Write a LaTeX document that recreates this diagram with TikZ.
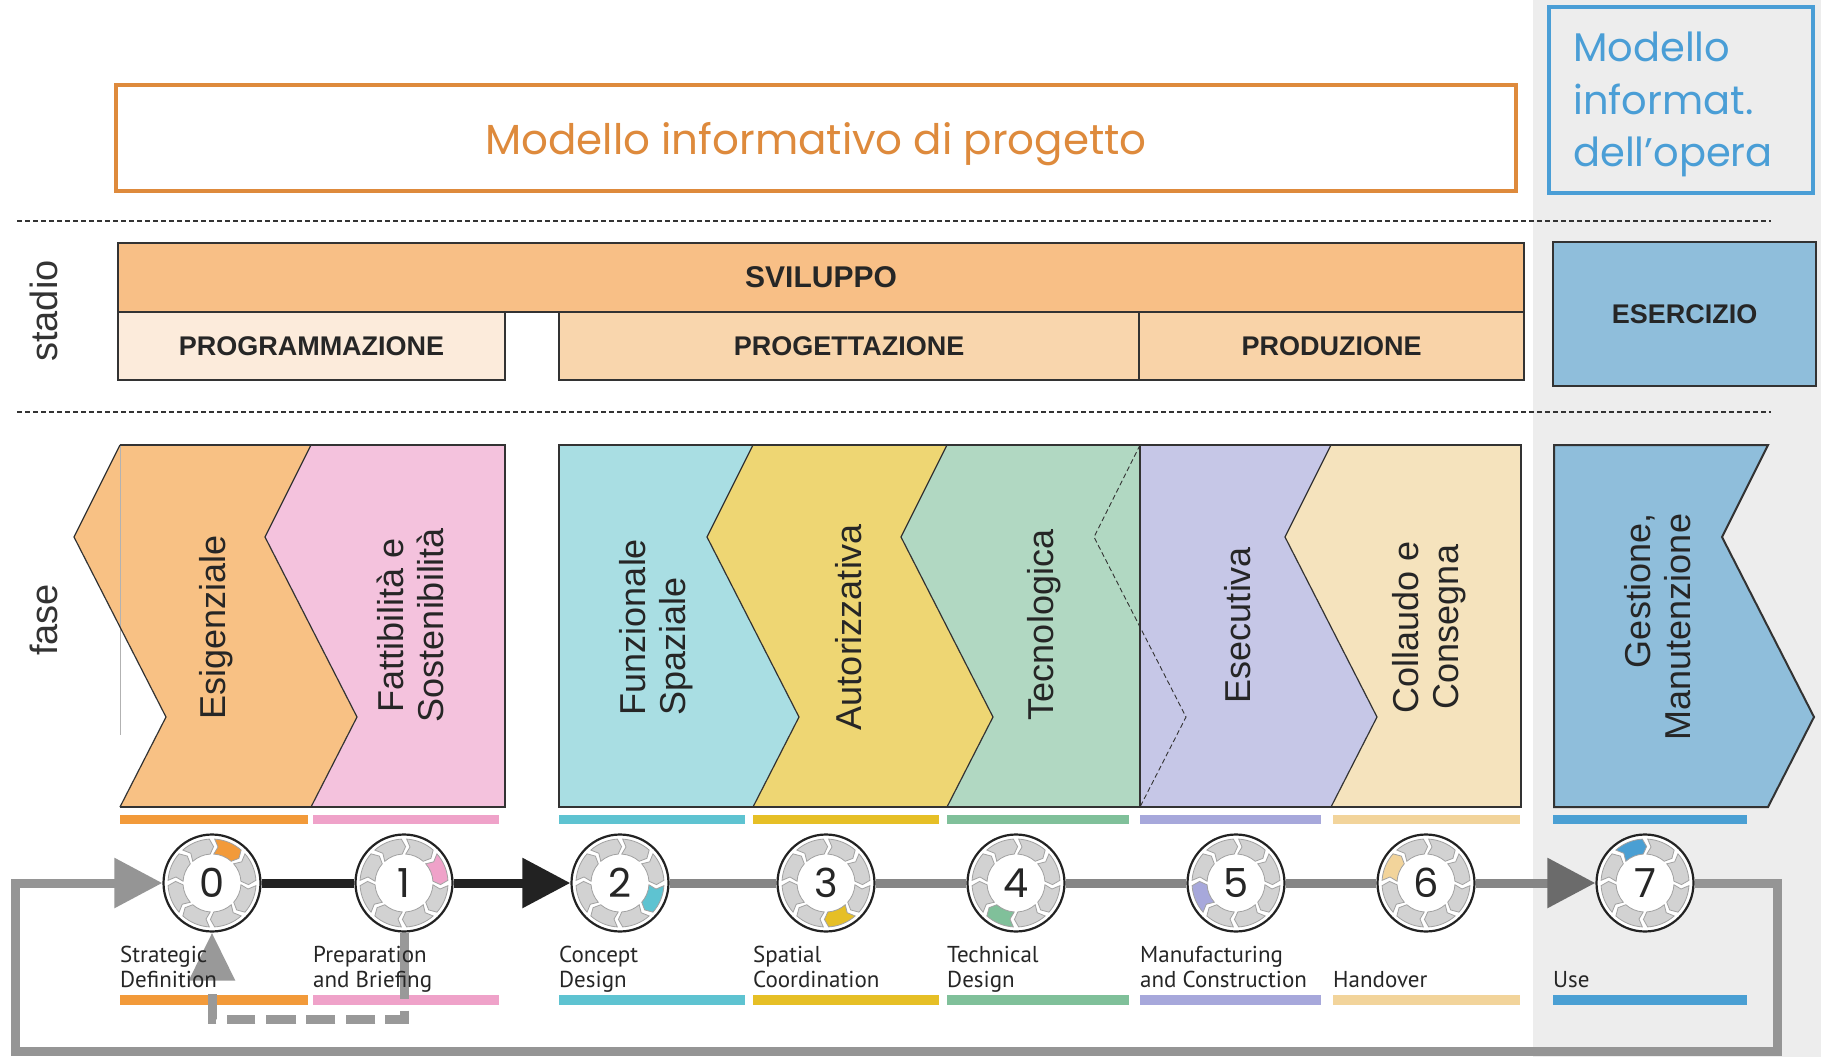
\documentclass[tikz,border=0pt]{standalone}
\usepackage{fontspec}
\setmainfont{Liberation Sans}
\newfontfamily\geofont{Poppins}
\newfontfamily\capfont{PT Sans}
\usetikzlibrary{arrows.meta}
\pgfdeclarelayer{back}
\pgfdeclarelayer{lines}
\pgfsetlayers{back,lines,main}

\definecolor{bgright}{HTML}{EDEDED}
\definecolor{textdark}{HTML}{262626}
\definecolor{boxline}{HTML}{333333}
\definecolor{titleor}{HTML}{DE8A3C}
\definecolor{titleblue}{HTML}{4A9ED6}
\definecolor{svil}{HTML}{F8BF86}
\definecolor{progr}{HTML}{FCEBDB}
\definecolor{proge}{HTML}{F9D6AD}
\definecolor{produ}{HTML}{F9D3A8}
\definecolor{eserc}{HTML}{8FBEDB}
\definecolor{oF}{HTML}{F8C184}\definecolor{oB}{HTML}{F29A3A}
\definecolor{pF}{HTML}{F4C2DD}\definecolor{pB}{HTML}{EFA2C9}
\definecolor{cF}{HTML}{A9DEE3}\definecolor{cB}{HTML}{5EC3D1}
\definecolor{yF}{HTML}{EED673}\definecolor{yB}{HTML}{E6BF26}
\definecolor{gF}{HTML}{B1D8C2}\definecolor{gB}{HTML}{80C09A}
\definecolor{lF}{HTML}{C6C7E7}\definecolor{lB}{HTML}{A7A8DB}
\definecolor{bF}{HTML}{F5E3BD}\definecolor{bB}{HTML}{F2D49B}
\definecolor{blF}{HTML}{8FBEDB}\definecolor{blB}{HTML}{4A9FD3}
\definecolor{seggray}{HTML}{D2D2D2}
\definecolor{segedge}{HTML}{A2A2A2}
\definecolor{lineblack}{HTML}{222222}
\definecolor{linegray}{HTML}{868686}
\definecolor{loopgray}{HTML}{959595}
\definecolor{fbgray}{HTML}{999999}

\newcommand\zig[1]{(#1,445) -- ({#1-46},537) -- ({#1+46},717) -- (#1,807)}
\newcommand\zigr[1]{(#1,807) -- ({#1+46},717) -- ({#1-46},537) -- (#1,445)}

\newcommand\phasering[4]{%
 \begin{scope}[shift={(#1,#2)},yscale=-1]
 \foreach \k in {0,...,7}{%
   \pgfmathsetmacro\segc{67.5-45*\k}%
   \ifnum\k=#4\relax \colorlet{segfill}{#3}\else\colorlet{segfill}{seggray}\fi
   \filldraw[fill=segfill,draw=segedge,line width=0.8pt]
     ({\segc+19}:44) arc[start angle={\segc+19},end angle={\segc-19},radius=44]
     -- ({\segc-25}:36.5) -- ({\segc-19}:29)
     arc[start angle={\segc-19},end angle={\segc+19},radius=29]
     -- ({\segc+13}:36.5) -- cycle;
 }%
 \end{scope}}

\tikzset{
  sepline/.style={draw=boxline,line width=2.5pt,dash pattern=on 5pt off 3pt},
  stbox/.style={draw=boxline,line width=2pt,inner sep=0pt,
     font=\fontsize{27}{30}\selectfont\bfseries,text=textdark},
  phasetext/.style={rotate=90,font=\fontsize{36}{40}\selectfont,text=textdark,inner sep=0pt},
  sidelabel/.style={rotate=90,font=\fontsize{38}{40}\selectfont,text=boxline,inner sep=0pt},
  boundary/.style={draw=boxline,line width=1.2pt},
  frame/.style={draw=boxline,line width=2pt},
  phasecircle/.style={circle,minimum size=97pt,inner sep=0pt,fill=white,draw=lineblack,line width=2.2pt},
  numtext/.style={font=\geofont\fontsize{40}{42}\selectfont,text=textdark,inner sep=0pt},
  captext/.style={anchor=base west,font=\capfont\fontsize{23}{25}\selectfont,text=textdark,inner sep=0pt},
  blackline/.style={draw=lineblack,line width=9pt},
  grayline/.style={draw=linegray,line width=9pt},
  loopline/.style={draw=loopgray,line width=9pt,line join=miter},
  bigtip/.style={-{Triangle[length=48pt,width=48pt]}},
  fbline/.style={draw=fbgray,line width=9pt,line join=miter},
  bluetext/.style={anchor=base west,inner sep=0pt,font=\geofont\fontsize{40}{44}\selectfont,text=titleblue},
}

\begin{document}
\begin{tikzpicture}[x=1pt,y=-1pt]
\useasboundingbox (0,0) rectangle (1821,1057);
\begin{pgfonlayer}{back}
\fill[white] (0,0) rectangle (1821,1057);
\fill[bgright] (1533,0) rectangle (1821,1057);
\end{pgfonlayer}

% separators
\draw[sepline] (17,221) -- (1771,221);
\draw[sepline] (17,412) -- (1771,412);

% model boxes
\node[draw=titleor,line width=4pt,minimum width=1400pt,minimum height=106pt,inner sep=0pt,
      text height=36pt,text depth=4pt,
      font=\geofont\fontsize{42}{44}\selectfont,text=titleor] (mip) at (816,138) {Modello informativo di progetto};
\draw[titleblue,line width=4pt] (1549,7) rectangle (1813,193);
\node[bluetext] (mio1) at (1573,62) {Modello};
\node[bluetext] (mio2) at (1573,114) {informat.};
\node[bluetext] (mio3) at (1573,166) {dell’opera};

% side labels
\node[sidelabel] (stadio) at (44,311) {stadio};
\node[sidelabel] (fase) at (44,620) {fase};

% stadio boxes
\node[stbox,fill=svil,minimum width=1406pt,minimum height=69pt,font=\fontsize{30}{32}\selectfont\bfseries] (svil) at (821,277.5) {SVILUPPO};
\node[stbox,fill=progr,minimum width=387pt,minimum height=68pt] (prgm) at (311.5,346) {PROGRAMMAZIONE};
\node[stbox,fill=proge,minimum width=580pt,minimum height=68pt] (prgt) at (849,346) {PROGETTAZIONE};
\node[stbox,fill=produ,minimum width=385pt,minimum height=68pt] (prod) at (1331.5,346) {PRODUZIONE};
\node[stbox,fill=eserc,minimum width=263pt,minimum height=144pt] (eser) at (1684.5,314) {ESERCIZIO};

% phase shapes
\fill[oF] \zig{120} -- \zigr{311} -- cycle;
\fill[pF] \zig{311} -- (505,807) -- (505,445) -- cycle;
\fill[cF] (559,445) -- (559,807) -- \zigr{753} -- cycle;
\fill[yF] \zig{753} -- \zigr{947} -- cycle;
\fill[gF] \zig{947} -- (1140,807) -- (1140,445) -- cycle;
\fill[lF] (1140,445) -- (1140,807) -- \zigr{1331} -- cycle;
\fill[bF] \zig{1331} -- (1521,807) -- (1521,445) -- cycle;
\fill[blF] (1554,445) -- (1554,807) -- \zigr{1768} -- cycle;

\draw[draw=black!30,line width=0.8pt] (120,445) -- (120,735);
\draw[boundary] \zig{120};
\draw[boundary] \zig{311};
\draw[boundary] \zig{753};
\draw[boundary] \zig{947};
\draw[boundary] \zig{1331};
\draw[draw=boxline,line width=0.9pt,dash pattern=on 5pt off 3pt] \zig{1140};
\draw[boundary] (1140,445) -- (1140,807);
\draw[frame] (120,445) -- (505,445) -- (505,807) -- (120,807);
\draw[frame] (559,445) rectangle (1521,807);
\draw[frame] (1554,445) -- (1554,807) -- \zigr{1768} -- cycle;

% phase labels
\node[phasetext] (esig) at (216,627) {Esigenziale};
\node[phasetext,align=center] (fatt) at (410,625) {Fattibilità e\\Sostenibilità};
\node[phasetext,align=left] (funz) at (656,627) {Funzionale\\Spaziale};
\node[phasetext] (auto) at (849,627) {Autorizzativa};
\node[phasetext] (tecn) at (1044,625) {Tecnologica};
\node[phasetext] (esec) at (1238,625) {Esecutiva};
\node[phasetext,align=center] (coll) at (1429,627) {Collaudo e\\Consegna};
\node[phasetext,align=right] (gest) at (1658,627) {Gestione,\\Manutenzione};

% colour bars
\foreach \xa/\xb/\col in {120/308/oB,313/499/pB,559/745/cB,753/939/yB,947/1129/gB,1140/1321/lB,1333/1520/bB,1553/1747/blB}{
  \fill[\col] (\xa,815) rectangle (\xb,824);
  \fill[\col] (\xa,995) rectangle (\xb,1005);
}

% stage circles
\node[phasecircle] (c0) at (212,883) {};
\node[phasecircle] (c1) at (404,883) {};
\node[phasecircle] (c2) at (620,883) {};
\node[phasecircle] (c3) at (826,883) {};
\node[phasecircle] (c4) at (1016,883) {};
\node[phasecircle] (c5) at (1236,883) {};
\node[phasecircle] (c6) at (1426,883) {};
\node[phasecircle] (c7) at (1645,883) {};
\phasering{212}{883}{oB}{0}
\phasering{404}{883}{pB}{1}
\phasering{620}{883}{cB}{2}
\phasering{826}{883}{yB}{3}
\phasering{1016}{883}{gB}{4}
\phasering{1236}{883}{lB}{5}
\phasering{1426}{883}{bB}{6}
\phasering{1645}{883}{blB}{7}
\node[numtext] (n0) at (c0) {0};
\node[numtext] (n1) at (c1) {1};
\node[numtext] (n2) at (c2) {2};
\node[numtext] (n3) at (c3) {3};
\node[numtext] (n4) at (c4) {4};
\node[numtext] (n5) at (c5) {5};
\node[numtext] (n6) at (c6) {6};
\node[numtext] (n7) at (c7) {7};

% loop corner coordinates
\coordinate (lr) at (1777,883);
\coordinate (br) at (1777,1051);
\coordinate (bl) at (15,1051);
\coordinate (tl) at (15,883);
\coordinate (fb1) at (404,1019);
\coordinate (fb2) at (212,1019);

\begin{pgfonlayer}{lines}
\draw[blackline] (c0) -- (c1);
\draw[blackline,bigtip] (c1) -- (c2);
\draw[grayline] (c2) -- (c3);
\draw[grayline] (c3) -- (c4);
\draw[grayline] (c4) -- (c5);
\draw[grayline] (c5) -- (c6);
\draw[draw=linegray,line width=9pt,-{Triangle[length=48pt,width=48pt,color=black!58]}] (c6) -- (c7);
\draw[loopline,bigtip] (c7) -- (lr) -- (br) -- (bl) -- (tl) -- (c0);
\end{pgfonlayer}

% feedback loop 1 -> 0
\draw[fbline,-{Triangle[length=48pt,width=44pt]},
  dash pattern=on 66pt off 12pt on 27pt off 10pt on 29pt off 11pt on 29pt off 10pt on 30pt off 11pt on 28pt off 11pt on 29pt off 20pt]
  (c1) -- (fb1) -- (fb2) -- (c0);

% captions
\node[captext] (cap0a) at (120,962) {Strategic};
\node[captext] (cap0b) at (120,987) {Definition};
\node[captext] (cap1a) at (313,962) {Preparation};
\node[captext] (cap1b) at (313,987) {and Briefing};
\node[captext] (cap2a) at (559,962) {Concept};
\node[captext] (cap2b) at (559,987) {Design};
\node[captext] (cap3a) at (753,962) {Spatial};
\node[captext] (cap3b) at (753,987) {Coordination};
\node[captext] (cap4a) at (947,962) {Technical};
\node[captext] (cap4b) at (947,987) {Design};
\node[captext] (cap5a) at (1140,962) {Manufacturing};
\node[captext] (cap5b) at (1140,987) {and Construction};
\node[captext] (cap6) at (1333,987) {Handover};
\node[captext] (cap7) at (1553,987) {Use};
\end{tikzpicture}
\end{document}
